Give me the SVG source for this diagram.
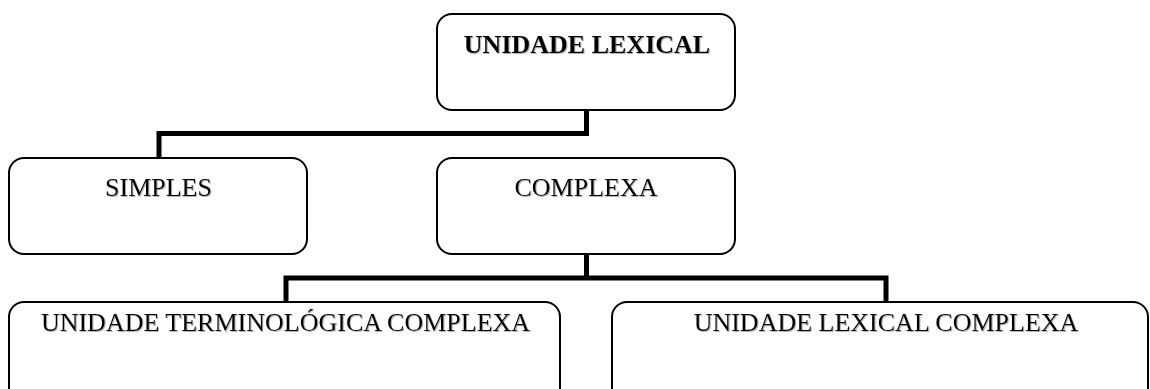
<svg xmlns="http://www.w3.org/2000/svg" width="1150" height="389" viewBox="0 0 1150 389">
  <defs>
    <filter id="shadow" x="-5%" y="-20%" width="110%" height="140%">
      <feDropShadow dx="1" dy="1" stdDeviation="0.6" flood-color="#808080" flood-opacity="0.6"/>
    </filter>
  </defs>
  <style>
    .box { fill: #ffffff; stroke: #000000; stroke-width: 2; }
    .lbl { font-family: "Liberation Serif", "Times New Roman", serif; font-size: 26px; fill: #000000; text-anchor: middle; filter: url(#shadow); }
    .bold { font-weight: bold; }
    .conn { fill: none; stroke: #000000; stroke-width: 5; stroke-linejoin: miter; stroke-linecap: butt; }
  </style>
  <rect width="1150" height="389" fill="#ffffff"/>

  <g id="connectors">
    <path class="conn" d="M 586.5 110 V 133.5 M 589 133.5 H 159 V 158"/>
    <path class="conn" d="M 586.5 254 V 278 M 286 302 V 278 H 886 V 302"/>
  </g>

  <g id="node-unidade-lexical">
    <rect class="box" x="437" y="14" width="298" height="96" rx="15" ry="15"/>
    <text class="lbl bold" x="587" y="52.5">UNIDADE LEXICAL</text>
  </g>

  <g id="node-simples">
    <rect class="box" x="9" y="158" width="298" height="96" rx="15" ry="15"/>
    <text class="lbl" x="158.5" y="196">SIMPLES</text>
  </g>

  <g id="node-complexa">
    <rect class="box" x="437" y="158" width="298" height="96" rx="15" ry="15"/>
    <text class="lbl" x="586" y="196">COMPLEXA</text>
  </g>

  <g id="node-utc">
    <rect class="box" x="9" y="302" width="551" height="110" rx="15" ry="15"/>
    <text class="lbl" x="285.5" y="330.5">UNIDADE TERMINOLÓGICA COMPLEXA</text>
  </g>

  <g id="node-ulc">
    <rect class="box" x="612" y="302" width="536" height="110" rx="15" ry="15"/>
    <text class="lbl" x="886" y="330.5">UNIDADE LEXICAL COMPLEXA</text>
  </g>
</svg>
